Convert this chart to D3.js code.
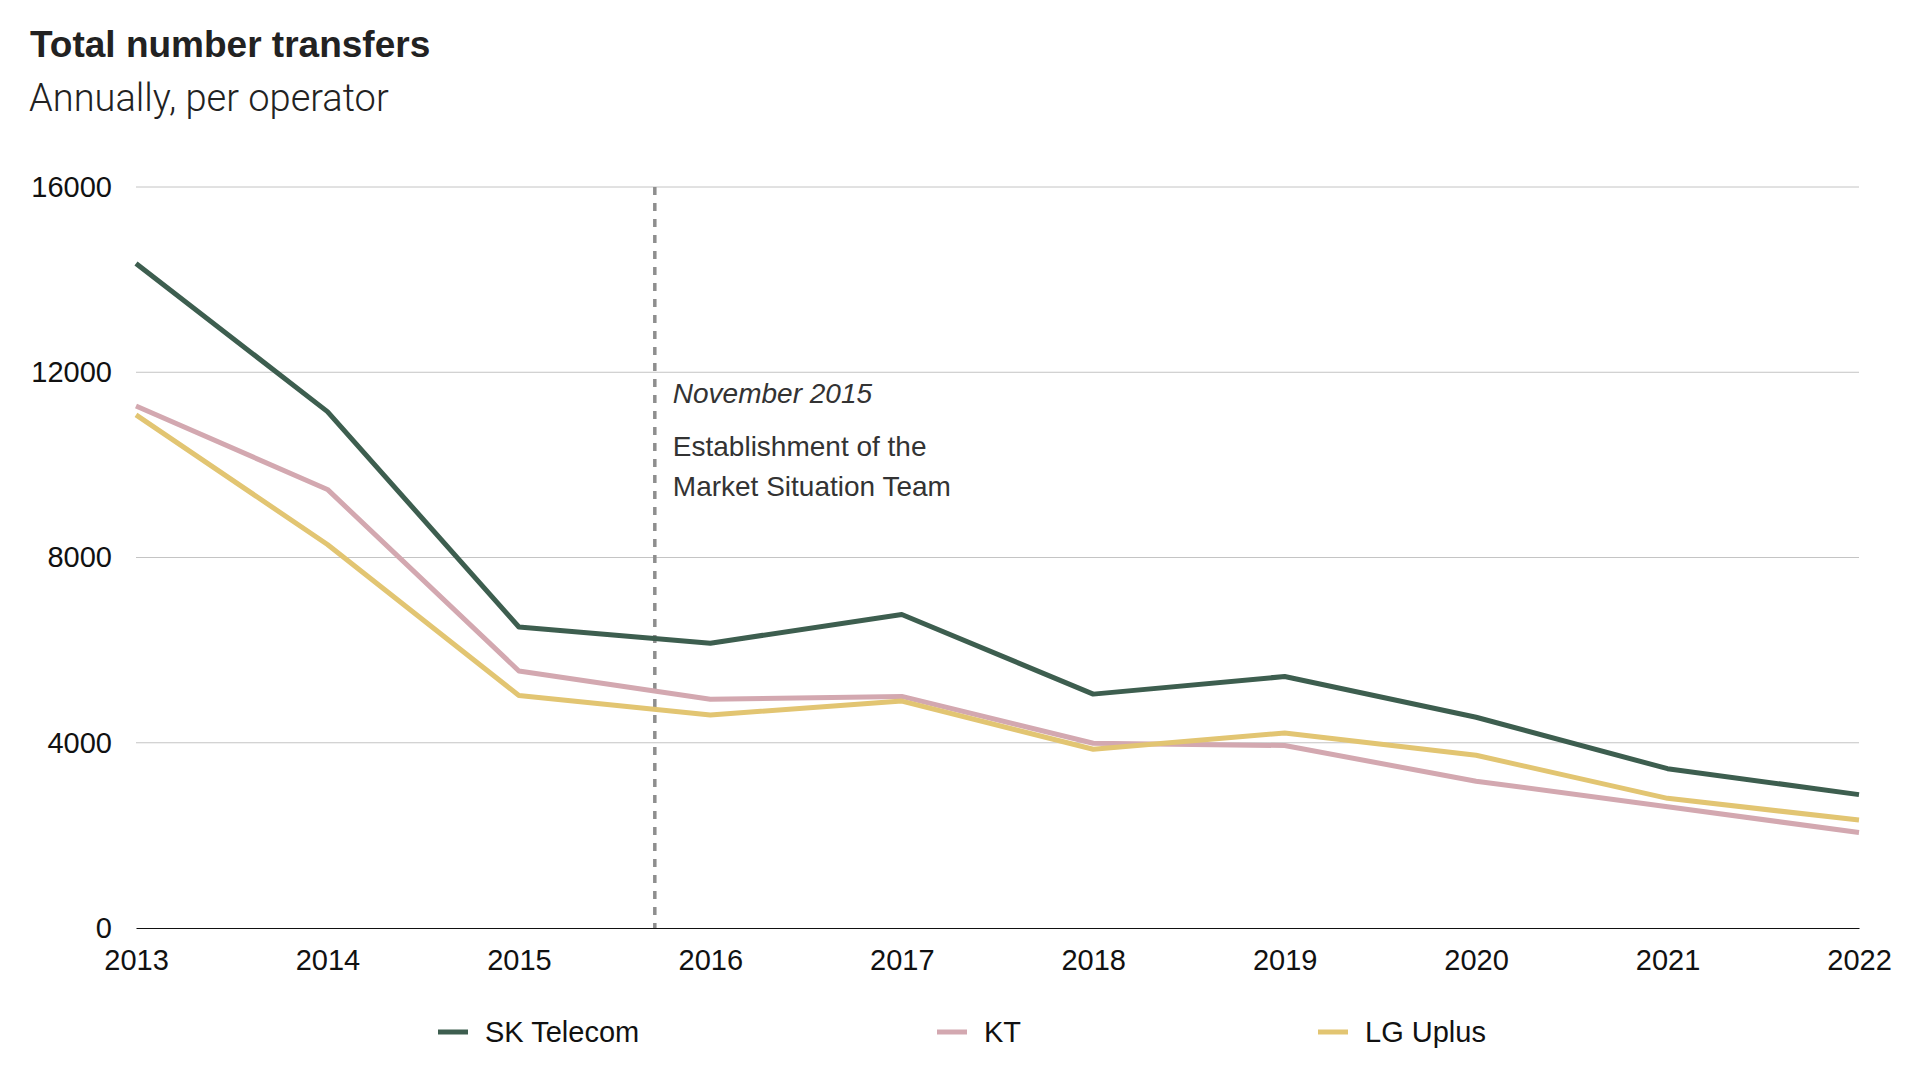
<!DOCTYPE html>
<html>
<head>
<meta charset="utf-8">
<script src="https://cdn.jsdelivr.net/npm/d3@7"></script>
<style>
  body { margin: 0; background: #fff; }
  svg { display: block; font-family: "Liberation Sans", "Helvetica Neue", Arial, sans-serif; }
</style>
</head>
<body>
<svg width="1920" height="1080"></svg>
<script>
// chart data
const years = [2013, 2014, 2015, 2016, 2017, 2018, 2019, 2020, 2021, 2022];
const skTelecom = [14350, 11150, 6500, 6150, 6770, 5050, 5430, 4550, 3440, 2880];
const kt = [11270, 9470, 5550, 4940, 5000, 3990, 3940, 3170, 2620, 2060];
const lgUplus = [11080, 8280, 5020, 4600, 4900, 3860, 4210, 3730, 2800, 2330];
const yTicks = [0, 4000, 8000, 12000, 16000];
const seriesNames = ["SK Telecom", "KT", "LG Uplus"];
const seriesColors = ["#3d5e4f", "#d3a8b0", "#e2c572"];
const markerYear = 2015.71;
const markerTitle = "November 2015";
const markerLines = ["Establishment of the", "Market Situation Team"];

const svg = d3.select("svg");

// plot area
const plotLeft = 136, plotRight = 1859, plotTop = 187, plotBottom = 928;

const x = d3.scaleLinear().domain([2013, 2022]).range([plotLeft, plotRight]);
const y = d3.scaleLinear().domain([0, 16000]).range([plotBottom, plotTop]);

// title
svg.append("text")
  .attr("x", 30).attr("y", 57)
  .attr("font-size", 37).attr("font-weight", "bold").attr("fill", "#222")
  .text("Total number transfers");

svg.append("text")
  .attr("x", 29).attr("y", 111)
  .attr("font-size", 38).attr("font-family", "Roboto, 'Liberation Sans', sans-serif")
  .attr("font-weight", 300).attr("fill", "#222")
  .text("Annually, per operator");

// gridlines
svg.append("g")
  .selectAll("line")
  .data(yTicks.filter(d => d > 0))
  .enter()
  .append("line")
  .attr("x1", plotLeft).attr("x2", plotRight)
  .attr("y1", d => y(d)).attr("y2", d => y(d))
  .attr("stroke", "#c4c4c4").attr("stroke-width", 1);

// y axis labels
let yAxis = d3.axisLeft(y).tickValues(yTicks).tickSize(0).tickPadding(24).tickFormat(d3.format("d"));
svg.append("g")
  .attr("transform", `translate(${plotLeft},0)`)
  .call(yAxis)
  .call(g => g.select(".domain").remove())
  .selectAll("text")
  .attr("font-size", 29).attr("fill", "#111").attr("font-family", "Liberation Sans, Arial, sans-serif");

// x axis
let xAxis = d3.axisBottom(x).tickValues(years).tickSize(0).tickPadding(21).tickFormat(d3.format("d"));
svg.append("g")
  .attr("transform", `translate(0,${plotBottom})`)
  .call(xAxis)
  .call(g => g.select(".domain").attr("stroke", "#111").attr("stroke-width", 1.2))
  .selectAll("text")
  .attr("font-size", 29).attr("fill", "#111").attr("font-family", "Liberation Sans, Arial, sans-serif");

// marker line
svg.append("line")
  .attr("x1", x(markerYear)).attr("x2", x(markerYear))
  .attr("y1", plotTop).attr("y2", plotBottom)
  .attr("stroke", "#8e8e8e").attr("stroke-width", 3.5)
  .attr("stroke-dasharray", "8,8");

svg.append("text")
  .attr("x", x(markerYear) + 18).attr("y", 403)
  .attr("font-size", 28).attr("font-style", "italic").attr("fill", "#333")
  .text(markerTitle);

svg.append("g")
  .selectAll("text")
  .data(markerLines)
  .enter()
  .append("text")
  .attr("x", x(markerYear) + 18)
  .attr("y", (d, i) => 456 + i * 40)
  .attr("font-size", 28).attr("fill", "#333")
  .text(d => d);

// lines
const seriesData = [skTelecom, kt, lgUplus];
const line = d3.line()
  .x((d, i) => x(years[i]))
  .y(d => y(d));

[1, 2, 0].forEach(k => {
  svg.append("path")
    .datum(seriesData[k])
    .attr("fill", "none")
    .attr("stroke", seriesColors[k])
    .attr("stroke-width", 5)
    .attr("stroke-linejoin", "round")
    .attr("d", line);
});

// legend
const legendX = [438, 937, 1318];
const legend = svg.append("g")
  .selectAll("g")
  .data(seriesNames)
  .enter()
  .append("g")
  .attr("transform", (d, i) => `translate(${legendX[i]},1032)`);

legend.append("line")
  .attr("x1", 0).attr("x2", 30)
  .attr("stroke", (d, i) => seriesColors[i])
  .attr("stroke-width", 5);

legend.append("text")
  .attr("x", 47).attr("y", 10)
  .attr("font-size", 29).attr("fill", "#111")
  .text(d => d);
</script>
</body>
</html>
